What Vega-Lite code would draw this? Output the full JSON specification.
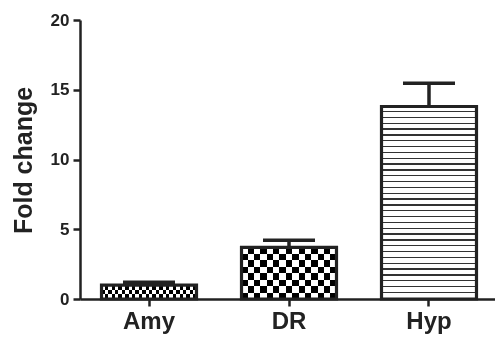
{
  "$schema": "https://vega.github.io/schema/vega-lite/v6.json",
  "width": 418,
  "height": 279,
  "autosize": "none",
  "padding": {"left": 80, "top": 20, "right": 0, "bottom": 39},
  "background": "white",
  "config": {"view": {"stroke": null}, "font": "Liberation Sans"},
  "data": {"values": [
    {"g": "Amy", "v": 1.0, "e": 1.2},
    {"g": "DR", "v": 3.7, "e": 4.22},
    {"g": "Hyp", "v": 13.8, "e": 15.47}
  ]},
  "encoding": {
    "x": {"field": "g", "type": "nominal", "sort": null,
      "scale": {"paddingInner": 0.3214, "paddingOuter": 0.1536},
      "axis": {"title": null, "labelAngle": 0, "labelFont": "Liberation Sans", "labelFontWeight": "bold", "labelFontSize": 24, "labelColor": "#222", "labelPadding": 3, "tickSize": 7, "tickWidth": 2.5, "tickColor": "#222", "domainWidth": 2.5, "domainColor": "#222"}},
    "y": {"field": "v", "type": "quantitative",
      "scale": {"domain": [0, 20], "nice": false},
      "axis": {"title": "Fold change", "values": [0, 5, 10, 15, 20], "grid": false, "labelFont": "Liberation Sans", "labelFontWeight": "bold", "labelFontSize": 17, "labelColor": "#222", "labelPadding": 4, "tickSize": 7, "tickWidth": 2.5, "tickColor": "#222", "domainWidth": 2.5, "domainColor": "#222", "titleFont": "Liberation Sans", "titleFontWeight": "bold", "titleFontSize": 25, "titleColor": "#222", "titleAngle": 270, "titleX": -49, "titleY": 140, "titleAlign": "center", "titleBaseline": "alphabetic"}}
  },
  "layer": [
    {"transform": [{"filter": "datum.g === 'Amy'"}],
     "mark": {"type": "bar", "fill": {"gradient": "linear", "x1": 0, "y1": 0, "x2": 0, "y2": 1, "stops": [
       {"offset": 0, "color": "#000"}, {"offset": 0.3333, "color": "#000"}, {"offset": 0.3333, "color": "#fff"}, {"offset": 0.6667, "color": "#fff"}, {"offset": 0.6667, "color": "#000"}, {"offset": 1, "color": "#000"}]}}},
    {"transform": [{"filter": "datum.g === 'Amy'"}],
     "mark": {"type": "bar", "blend": "difference", "fill": {"gradient": "linear", "x1": 0, "y1": 0, "x2": 1, "y2": 0, "stops": [
       {"offset": 0, "color": "#fff"}, {"offset": 0.03571, "color": "#fff"}, {"offset": 0.03571, "color": "rgba(255,255,255,0)"}, {"offset": 0.07143, "color": "rgba(255,255,255,0)"},
       {"offset": 0.07143, "color": "#fff"}, {"offset": 0.10714, "color": "#fff"}, {"offset": 0.10714, "color": "rgba(255,255,255,0)"}, {"offset": 0.14286, "color": "rgba(255,255,255,0)"},
       {"offset": 0.14286, "color": "#fff"}, {"offset": 0.17857, "color": "#fff"}, {"offset": 0.17857, "color": "rgba(255,255,255,0)"}, {"offset": 0.21429, "color": "rgba(255,255,255,0)"},
       {"offset": 0.21429, "color": "#fff"}, {"offset": 0.25, "color": "#fff"}, {"offset": 0.25, "color": "rgba(255,255,255,0)"}, {"offset": 0.28571, "color": "rgba(255,255,255,0)"},
       {"offset": 0.28571, "color": "#fff"}, {"offset": 0.32143, "color": "#fff"}, {"offset": 0.32143, "color": "rgba(255,255,255,0)"}, {"offset": 0.35714, "color": "rgba(255,255,255,0)"},
       {"offset": 0.35714, "color": "#fff"}, {"offset": 0.39286, "color": "#fff"}, {"offset": 0.39286, "color": "rgba(255,255,255,0)"}, {"offset": 0.42857, "color": "rgba(255,255,255,0)"},
       {"offset": 0.42857, "color": "#fff"}, {"offset": 0.46429, "color": "#fff"}, {"offset": 0.46429, "color": "rgba(255,255,255,0)"}, {"offset": 0.5, "color": "rgba(255,255,255,0)"},
       {"offset": 0.5, "color": "#fff"}, {"offset": 0.53571, "color": "#fff"}, {"offset": 0.53571, "color": "rgba(255,255,255,0)"}, {"offset": 0.57143, "color": "rgba(255,255,255,0)"},
       {"offset": 0.57143, "color": "#fff"}, {"offset": 0.60714, "color": "#fff"}, {"offset": 0.60714, "color": "rgba(255,255,255,0)"}, {"offset": 0.64286, "color": "rgba(255,255,255,0)"},
       {"offset": 0.64286, "color": "#fff"}, {"offset": 0.67857, "color": "#fff"}, {"offset": 0.67857, "color": "rgba(255,255,255,0)"}, {"offset": 0.71429, "color": "rgba(255,255,255,0)"},
       {"offset": 0.71429, "color": "#fff"}, {"offset": 0.75, "color": "#fff"}, {"offset": 0.75, "color": "rgba(255,255,255,0)"}, {"offset": 0.78571, "color": "rgba(255,255,255,0)"},
       {"offset": 0.78571, "color": "#fff"}, {"offset": 0.82143, "color": "#fff"}, {"offset": 0.82143, "color": "rgba(255,255,255,0)"}, {"offset": 0.85714, "color": "rgba(255,255,255,0)"},
       {"offset": 0.85714, "color": "#fff"}, {"offset": 0.89286, "color": "#fff"}, {"offset": 0.89286, "color": "rgba(255,255,255,0)"}, {"offset": 0.92857, "color": "rgba(255,255,255,0)"},
       {"offset": 0.92857, "color": "#fff"}, {"offset": 0.96429, "color": "#fff"}, {"offset": 0.96429, "color": "rgba(255,255,255,0)"}, {"offset": 1, "color": "rgba(255,255,255,0)"}]}}},
    {"transform": [{"filter": "datum.g === 'DR'"}],
     "mark": {"type": "bar", "fill": {"gradient": "linear", "x1": 0, "y1": 0, "x2": 0, "y2": 1, "stops": [
       {"offset": 0, "color": "#000"}, {"offset": 0.125, "color": "#000"}, {"offset": 0.125, "color": "#fff"}, {"offset": 0.25, "color": "#fff"},
       {"offset": 0.25, "color": "#000"}, {"offset": 0.375, "color": "#000"}, {"offset": 0.375, "color": "#fff"}, {"offset": 0.5, "color": "#fff"},
       {"offset": 0.5, "color": "#000"}, {"offset": 0.625, "color": "#000"}, {"offset": 0.625, "color": "#fff"}, {"offset": 0.75, "color": "#fff"},
       {"offset": 0.75, "color": "#000"}, {"offset": 0.875, "color": "#000"}, {"offset": 0.875, "color": "#fff"}, {"offset": 1, "color": "#fff"}]}}},
    {"transform": [{"filter": "datum.g === 'DR'"}],
     "mark": {"type": "bar", "blend": "difference", "fill": {"gradient": "linear", "x1": 0, "y1": 0, "x2": 1, "y2": 0, "stops": [
       {"offset": 0, "color": "#fff"}, {"offset": 0.06667, "color": "#fff"}, {"offset": 0.06667, "color": "rgba(255,255,255,0)"}, {"offset": 0.13333, "color": "rgba(255,255,255,0)"},
       {"offset": 0.13333, "color": "#fff"}, {"offset": 0.2, "color": "#fff"}, {"offset": 0.2, "color": "rgba(255,255,255,0)"}, {"offset": 0.26667, "color": "rgba(255,255,255,0)"},
       {"offset": 0.26667, "color": "#fff"}, {"offset": 0.33333, "color": "#fff"}, {"offset": 0.33333, "color": "rgba(255,255,255,0)"}, {"offset": 0.4, "color": "rgba(255,255,255,0)"},
       {"offset": 0.4, "color": "#fff"}, {"offset": 0.46667, "color": "#fff"}, {"offset": 0.46667, "color": "rgba(255,255,255,0)"}, {"offset": 0.53333, "color": "rgba(255,255,255,0)"},
       {"offset": 0.53333, "color": "#fff"}, {"offset": 0.6, "color": "#fff"}, {"offset": 0.6, "color": "rgba(255,255,255,0)"}, {"offset": 0.66667, "color": "rgba(255,255,255,0)"},
       {"offset": 0.66667, "color": "#fff"}, {"offset": 0.73333, "color": "#fff"}, {"offset": 0.73333, "color": "rgba(255,255,255,0)"}, {"offset": 0.8, "color": "rgba(255,255,255,0)"},
       {"offset": 0.8, "color": "#fff"}, {"offset": 0.86667, "color": "#fff"}, {"offset": 0.86667, "color": "rgba(255,255,255,0)"}, {"offset": 0.93333, "color": "rgba(255,255,255,0)"},
       {"offset": 0.93333, "color": "#fff"}, {"offset": 1, "color": "#fff"}]}}},
    {"transform": [{"filter": "datum.g === 'Hyp'"}],
     "mark": {"type": "bar", "fill": {"gradient": "linear", "x1": 0, "y1": 0, "x2": 0, "y2": 1, "stops": [
       {"offset": 0, "color": "#fff"}, {"offset": 0.02273, "color": "#fff"}, {"offset": 0.02273, "color": "#333"}, {"offset": 0.0303, "color": "#333"},
       {"offset": 0.0303, "color": "#fff"}, {"offset": 0.05303, "color": "#fff"}, {"offset": 0.05303, "color": "#333"}, {"offset": 0.06061, "color": "#333"},
       {"offset": 0.06061, "color": "#fff"}, {"offset": 0.08333, "color": "#fff"}, {"offset": 0.08333, "color": "#333"}, {"offset": 0.09091, "color": "#333"},
       {"offset": 0.09091, "color": "#fff"}, {"offset": 0.11364, "color": "#fff"}, {"offset": 0.11364, "color": "#333"}, {"offset": 0.12121, "color": "#333"},
       {"offset": 0.12121, "color": "#fff"}, {"offset": 0.14394, "color": "#fff"}, {"offset": 0.14394, "color": "#333"}, {"offset": 0.15152, "color": "#333"},
       {"offset": 0.15152, "color": "#fff"}, {"offset": 0.17424, "color": "#fff"}, {"offset": 0.17424, "color": "#333"}, {"offset": 0.18182, "color": "#333"},
       {"offset": 0.18182, "color": "#fff"}, {"offset": 0.20455, "color": "#fff"}, {"offset": 0.20455, "color": "#333"}, {"offset": 0.21212, "color": "#333"},
       {"offset": 0.21212, "color": "#fff"}, {"offset": 0.23485, "color": "#fff"}, {"offset": 0.23485, "color": "#333"}, {"offset": 0.24242, "color": "#333"},
       {"offset": 0.24242, "color": "#fff"}, {"offset": 0.26515, "color": "#fff"}, {"offset": 0.26515, "color": "#333"}, {"offset": 0.27273, "color": "#333"},
       {"offset": 0.27273, "color": "#fff"}, {"offset": 0.29545, "color": "#fff"}, {"offset": 0.29545, "color": "#333"}, {"offset": 0.30303, "color": "#333"},
       {"offset": 0.30303, "color": "#fff"}, {"offset": 0.32576, "color": "#fff"}, {"offset": 0.32576, "color": "#333"}, {"offset": 0.33333, "color": "#333"},
       {"offset": 0.33333, "color": "#fff"}, {"offset": 0.35606, "color": "#fff"}, {"offset": 0.35606, "color": "#333"}, {"offset": 0.36364, "color": "#333"},
       {"offset": 0.36364, "color": "#fff"}, {"offset": 0.38636, "color": "#fff"}, {"offset": 0.38636, "color": "#333"}, {"offset": 0.39394, "color": "#333"},
       {"offset": 0.39394, "color": "#fff"}, {"offset": 0.41667, "color": "#fff"}, {"offset": 0.41667, "color": "#333"}, {"offset": 0.42424, "color": "#333"},
       {"offset": 0.42424, "color": "#fff"}, {"offset": 0.44697, "color": "#fff"}, {"offset": 0.44697, "color": "#333"}, {"offset": 0.45455, "color": "#333"},
       {"offset": 0.45455, "color": "#fff"}, {"offset": 0.47727, "color": "#fff"}, {"offset": 0.47727, "color": "#333"}, {"offset": 0.48485, "color": "#333"},
       {"offset": 0.48485, "color": "#fff"}, {"offset": 0.50758, "color": "#fff"}, {"offset": 0.50758, "color": "#333"}, {"offset": 0.51515, "color": "#333"},
       {"offset": 0.51515, "color": "#fff"}, {"offset": 0.53788, "color": "#fff"}, {"offset": 0.53788, "color": "#333"}, {"offset": 0.54545, "color": "#333"},
       {"offset": 0.54545, "color": "#fff"}, {"offset": 0.56818, "color": "#fff"}, {"offset": 0.56818, "color": "#333"}, {"offset": 0.57576, "color": "#333"},
       {"offset": 0.57576, "color": "#fff"}, {"offset": 0.59848, "color": "#fff"}, {"offset": 0.59848, "color": "#333"}, {"offset": 0.60606, "color": "#333"},
       {"offset": 0.60606, "color": "#fff"}, {"offset": 0.62879, "color": "#fff"}, {"offset": 0.62879, "color": "#333"}, {"offset": 0.63636, "color": "#333"},
       {"offset": 0.63636, "color": "#fff"}, {"offset": 0.65909, "color": "#fff"}, {"offset": 0.65909, "color": "#333"}, {"offset": 0.66667, "color": "#333"},
       {"offset": 0.66667, "color": "#fff"}, {"offset": 0.68939, "color": "#fff"}, {"offset": 0.68939, "color": "#333"}, {"offset": 0.69697, "color": "#333"},
       {"offset": 0.69697, "color": "#fff"}, {"offset": 0.7197, "color": "#fff"}, {"offset": 0.7197, "color": "#333"}, {"offset": 0.72727, "color": "#333"},
       {"offset": 0.72727, "color": "#fff"}, {"offset": 0.75, "color": "#fff"}, {"offset": 0.75, "color": "#333"}, {"offset": 0.75758, "color": "#333"},
       {"offset": 0.75758, "color": "#fff"}, {"offset": 0.7803, "color": "#fff"}, {"offset": 0.7803, "color": "#333"}, {"offset": 0.78788, "color": "#333"},
       {"offset": 0.78788, "color": "#fff"}, {"offset": 0.81061, "color": "#fff"}, {"offset": 0.81061, "color": "#333"}, {"offset": 0.81818, "color": "#333"},
       {"offset": 0.81818, "color": "#fff"}, {"offset": 0.84091, "color": "#fff"}, {"offset": 0.84091, "color": "#333"}, {"offset": 0.84848, "color": "#333"},
       {"offset": 0.84848, "color": "#fff"}, {"offset": 0.87121, "color": "#fff"}, {"offset": 0.87121, "color": "#333"}, {"offset": 0.87879, "color": "#333"},
       {"offset": 0.87879, "color": "#fff"}, {"offset": 0.90152, "color": "#fff"}, {"offset": 0.90152, "color": "#333"}, {"offset": 0.90909, "color": "#333"},
       {"offset": 0.90909, "color": "#fff"}, {"offset": 0.93182, "color": "#fff"}, {"offset": 0.93182, "color": "#333"}, {"offset": 0.93939, "color": "#333"},
       {"offset": 0.93939, "color": "#fff"}, {"offset": 0.96212, "color": "#fff"}, {"offset": 0.96212, "color": "#333"}, {"offset": 0.9697, "color": "#333"},
       {"offset": 0.9697, "color": "#fff"}, {"offset": 0.99242, "color": "#fff"}, {"offset": 0.99242, "color": "#333"}, {"offset": 1, "color": "#333"}]}}},
    {"mark": {"type": "rule", "color": "#222", "opacity": 1, "strokeWidth": 3.5},
     "encoding": {"y2": {"field": "e"}}},
    {"mark": {"type": "tick", "color": "#222", "opacity": 1, "thickness": 3.5, "size": 52, "orient": "horizontal"},
     "encoding": {"y": {"field": "e", "type": "quantitative"}}},
    {"mark": {"type": "bar", "fill": "#fff", "fillOpacity": 0, "stroke": "#222", "strokeWidth": 3.2}}
  ]
}
